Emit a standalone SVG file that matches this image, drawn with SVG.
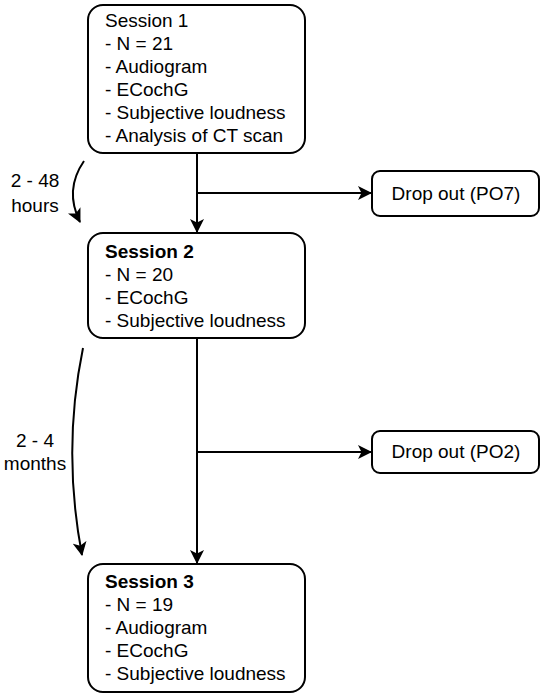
<svg xmlns="http://www.w3.org/2000/svg" width="544" height="697" viewBox="0 0 544 697">
<style>
.box{fill:#fff;stroke:#000;stroke-width:2}
.t{font-family:"Liberation Sans",Arial,sans-serif;font-size:19px;fill:#000}
.b{font-weight:bold}
.c{text-anchor:middle}
.ln{fill:none;stroke:#000;stroke-width:2}
</style>
<defs>
<marker id="ah" markerUnits="userSpaceOnUse" viewBox="0 0 14 14" markerWidth="14" markerHeight="14" refX="13" refY="7" orient="auto">
<path d="M0,0 L14,7 L0,14 L3.5,7 Z" fill="#000"/>
</marker>
</defs>
<rect width="544" height="697" fill="#fff"/>
<g id="connectors">
<path class="ln" d="M197,153 V232" marker-end="url(#ah)"/>
<path class="ln" d="M197,193 H371" marker-end="url(#ah)"/>
<path class="ln" d="M197,338 V563" marker-end="url(#ah)"/>
<path class="ln" d="M197,452 H371" marker-end="url(#ah)"/>
<path class="ln" d="M84,161 Q64,190 80,222" marker-end="url(#ah)"/>
<path class="ln" d="M83,348 Q62,450 82,555" marker-end="url(#ah)"/>
<text class="t c" x="35" y="187">2 - 48</text>
<text class="t c" x="35" y="212">hours</text>
<text class="t c" x="35" y="447">2 - 4</text>
<text class="t c" x="35" y="470">months</text>
</g>
<g id="session1">
<rect class="box" x="88" y="5" width="217" height="148" rx="15"/>
<text class="t" x="105" y="27">Session 1</text>
<text class="t" x="105" y="50">- N = 21</text>
<text class="t" x="105" y="73">- Audiogram</text>
<text class="t" x="105" y="96">- ECochG</text>
<text class="t" x="105" y="119">- Subjective loudness</text>
<text class="t" x="105" y="142">- Analysis of CT scan</text>
</g>
<g id="dropout1">
<rect class="box" x="372" y="171" width="167" height="45" rx="8"/>
<text class="t c" x="456" y="200">Drop out (PO7)</text>
</g>
<g id="session2">
<rect class="box" x="88" y="233" width="217" height="105" rx="15"/>
<text class="t b" x="105" y="258">Session 2</text>
<text class="t" x="105" y="281">- N = 20</text>
<text class="t" x="105" y="304">- ECochG</text>
<text class="t" x="105" y="327">- Subjective loudness</text>
</g>
<g id="dropout2">
<rect class="box" x="372" y="431" width="167" height="42" rx="8"/>
<text class="t c" x="456" y="458">Drop out (PO2)</text>
</g>
<g id="session3">
<rect class="box" x="88" y="564" width="217" height="128" rx="15"/>
<text class="t b" x="105" y="588">Session 3</text>
<text class="t" x="105" y="611">- N = 19</text>
<text class="t" x="105" y="634">- Audiogram</text>
<text class="t" x="105" y="657">- ECochG</text>
<text class="t" x="105" y="680">- Subjective loudness</text>
</g>
</svg>
